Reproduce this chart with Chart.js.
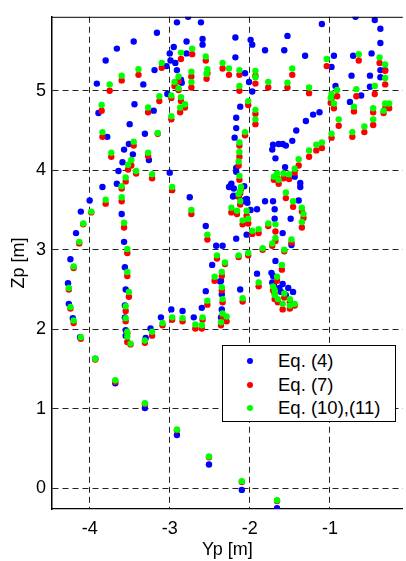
<!DOCTYPE html>
<html>
<head>
<meta charset="utf-8">
<script src="https://cdn.jsdelivr.net/npm/chart.js@4/dist/chart.umd.min.js"></script>
<style>
  html, body { margin: 0; padding: 0; background: #fff; overflow: hidden; }
  #wrap { position: relative; width: 406px; height: 561px; }
  #legend {
    position: absolute; left: 222px; top: 345px; width: 172px; height: 75px;
    border: 1px solid #000; background: #fff; color: #000;
    font: 18.5px "Liberation Sans", Arial, sans-serif;
  }
  .row { position: absolute; left: 0; height: 22px; line-height: 22px; width: 100%; }
  .dot { position: absolute; left: 24px; top: 8px; width: 6px; height: 6px; border-radius: 50%; }
  .lbl { position: absolute; left: 55px; white-space: nowrap; }
</style>
</head>
<body>
<div id="wrap">
  <canvas id="plot" width="406" height="561"></canvas>
  <div id="legend"></div>
</div>
<script>
// series names + colours
const seriesNames = ["Eq. (4)", "Eq. (7)", "Eq. (10),(11)"];
const seriesColors = ["#0000ff", "#ff0000", "#00ff00"];

// axis ticks
const xTicks = [-4, -3, -2, -1];
const yTicks = [0, 1, 2, 3, 4, 5];

// Eq. (4) points (blue)
const eq4X = [
  -2.77, -2.91, -2.61, -3.16, -2.59, -2.59, -2.79, -3.45, -3.66, -2.95,
  -3.00, -2.79, -2.99, -2.93, -3.80, -3.04, -3.19, -2.91, -2.86, -2.85,
  -3.91, -3.33, -3.03, -3.44, -3.89, -3.20, -3.50, -3.31, -3.78, -3.51,
  -3.57, -3.46, -3.26, -3.59, -3.64, -3.00, -3.66, -3.84, -2.75, -4.00,
  -3.60, -4.11, -4.17, -2.55, -3.57, -4.24, -3.56, -4.27, -4.26, -4.21,
  -4.12, -3.55, -3.56, -3.56, -3.55, -3.55, -3.30, -3.24, -3.11, -2.98,
  -2.84, -2.70, -2.60, -2.55, -2.47, -2.36, -2.35, -2.35, -2.36, -2.42,
  -2.34, -2.26, -2.23, -2.20, -2.20, -2.14, -2.04, -2.06, -2.03, -1.99,
  -1.91, -1.81, -1.71, -1.69, -1.69, -1.49, -1.39, -1.37, -1.37, -1.44,
  -1.56, -1.68, -1.72, -1.71, -1.64, -1.59, -1.55, -1.47, -2.19, -2.17,
  -2.17, -2.24, -2.07, -2.21, -2.06, -2.17, -2.04, -1.59, -1.48, -2.12,
  -1.91, -1.68, -1.73, -1.71, -1.72, -1.70, -1.59, -1.63, -1.52, -1.46,
  -1.61, -1.55, -2.37, -3.93, -3.68, -3.31, -2.91, -2.51, -2.10, -1.66,
  -0.68, -0.44, -0.37, -1.10, -2.18, -1.99, -1.97, -1.53, -0.37, -1.81,
  -1.57, -1.31, -2.18, -0.95, -0.71, -0.48, -0.98, -0.31, -0.37, -2.06,
  -0.73, -0.50, -0.37, -2.01, -0.93, -0.50, -1.97, -0.61, -0.75, -2.12,
  -1.13, -1.21, -1.30, -2.17, -2.17, -1.42
];
const eq4Y = [
  5.93, 5.86, 5.86, 5.73, 5.65, 5.58, 5.62, 5.62, 5.53, 5.55,
  5.47, 5.47, 5.38, 5.35, 5.38, 5.31, 5.26, 5.26, 5.14, 5.10,
  5.09, 5.08, 4.96, 4.83, 4.72, 4.75, 4.58, 4.46, 4.42, 4.33,
  4.26, 4.20, 4.13, 4.10, 3.99, 3.97, 3.83, 3.79, 3.66, 3.62,
  3.45, 3.48, 3.21, 3.30, 3.10, 2.88, 2.78, 2.58, 2.32, 2.14,
  1.90, 2.50, 2.30, 2.15, 1.99, 1.92, 1.89, 2.01, 2.15, 2.25,
  2.23, 2.15, 2.27, 2.48, 2.81, 2.61, 2.44, 2.25, 2.15, 3.05,
  3.05, 3.79, 3.83, 3.77, 3.68, 3.67, 3.64, 3.61, 3.59, 3.50,
  3.51, 3.61, 3.61, 3.51, 3.39, 3.39, 3.62, 3.84, 3.79, 3.92,
  4.04, 4.15, 4.26, 4.32, 4.33, 4.33, 4.31, 4.37, 4.41, 4.03,
  3.98, 3.81, 3.80, 3.67, 3.63, 3.14, 3.19, 3.21, 3.06, 2.50,
  2.70, 2.86, 2.71, 2.67, 2.59, 2.56, 2.57, 2.52, 2.52, 2.47,
  2.47, 2.43, 2.60, 1.63, 1.32, 1.01, 0.67, 0.30, -0.02, -0.25,
  5.93, 5.89, 5.78, 5.84, 5.67, 5.64, 5.58, 5.69, 5.60, 5.51,
  5.51, 5.44, 5.42, 5.44, 5.44, 5.47, 5.30, 5.26, 5.26, 5.22,
  5.19, 5.19, 5.17, 5.11, 5.06, 5.05, 4.99, 4.94, 4.86, 4.80,
  4.73, 4.70, 4.62, 4.66, 4.53, 4.50
];

// Eq. (7) (red) and Eq. (10),(11) (green) share the same Yp positions
const trajX = [
  -1.66, -2.10, -2.51, -2.91, -3.31, -3.68, -3.93, -4.11, -4.20, -4.24,
  -4.26, -4.20, -4.13, -4.08, -3.98, -3.80, -3.73, -3.84, -3.85, -3.75,
  -3.60, -3.39, -3.10, -2.86, -2.72, -2.55, -2.34, -2.26, -2.13, -1.93,
  -1.93, -1.77, -1.53, -1.47, -1.26, -1.04, -0.64, -0.38, -0.31, -0.31,
  -0.44, -0.67, -0.91, -0.98, -0.99, -0.95, -0.70, -0.46, -0.31, -0.26,
  -0.33, -0.46, -0.89, -0.57, -0.72, -0.98, -1.10, -1.17, -1.26, -1.39,
  -1.44, -1.51, -1.58, -1.66, -1.70, -1.64, -1.55, -1.46, -1.35, -1.33,
  -1.35, -1.48, -1.57, -1.72, -1.68, -1.68, -1.77, -1.84, -1.89, -1.97,
  -2.02, -2.09, -2.04, -2.16, -2.23, -2.12, -2.14, -2.12, -2.11, -2.13,
  -2.14, -2.13, -2.13, -2.06, -1.93, -1.93, -2.02, -2.13, -2.02, -2.14,
  -1.60, -1.66, -1.89, -1.71, -1.69, -1.57, -1.69, -1.65, -1.59, -1.50,
  -1.44, -1.50, -2.09, -2.29, -2.36, -2.34, -2.34, -2.35, -2.35, -2.44,
  -2.53, -2.59, -2.60, -2.68, -2.84, -2.97, -3.09, -3.22, -3.31, -3.49,
  -3.53, -3.53, -3.55, -3.55, -3.51, -3.53, -3.53, -3.57, -3.60, -3.60,
  -3.55, -3.42, -3.52, -3.48, -3.45, -3.27, -3.22, -2.97, -2.73, -2.53,
  -2.41, -2.31, -3.27, -3.13, -2.98, -2.87, -2.81, -2.86, -2.98, -2.89,
  -2.94, -3.15, -2.89, -2.73, -2.73, -2.53, -2.54
];
const eq7Y = [
  -0.16, 0.08, 0.39, 0.73, 1.06, 1.34, 1.62, 1.88, 2.08, 2.26,
  2.50, 2.77, 3.08, 3.32, 3.47, 3.58, 4.17, 4.42, 4.75, 5.00,
  5.13, 5.20, 5.29, 5.40, 5.46, 5.38, 5.28, 5.20, 5.20, 5.19,
  5.09, 5.04, 5.04, 5.20, 4.97, 5.31, 5.38, 5.35, 5.25, 5.08,
  4.96, 4.93, 4.93, 4.90, 4.85, 4.78, 4.74, 4.73, 4.78, 4.78,
  4.72, 4.57, 4.56, 4.48, 4.42, 4.41, 4.28, 4.25, 4.17, 4.06,
  3.97, 3.89, 3.90, 3.90, 3.88, 3.83, 3.65, 3.54, 3.48, 3.40,
  3.28, 3.09, 2.98, 3.05, 3.11, 3.23, 3.30, 3.00, 3.21, 3.20,
  3.33, 3.32, 3.43, 3.45, 3.47, 3.57, 3.67, 3.71, 3.76, 3.88,
  4.06, 4.17, 4.31, 4.44, 4.58, 4.71, 4.82, 5.00, 2.93, 2.91,
  2.75, 2.61, 2.54, 2.49, 2.45, 2.40, 2.38, 2.34, 2.25, 2.34,
  2.30, 2.26, 2.35, 2.10, 2.05, 2.16, 2.34, 2.49, 2.67, 2.61,
  2.31, 2.12, 2.01, 2.01, 2.10, 2.12, 2.05, 1.92, 1.83, 1.81,
  1.84, 1.95, 2.10, 2.23, 2.41, 2.67, 2.96, 3.28, 3.61, 3.77,
  3.86, 3.96, 4.01, 4.06, 4.31, 4.18, 3.90, 3.75, 3.45, 3.13,
  2.89, 2.82, 4.73, 4.87, 4.64, 4.73, 4.79, 4.87, 4.91, 5.01,
  5.06, 4.46, 5.12, 5.18, 5.04, 5.22, 5.15
];
const eq10Y = [
  -0.15, 0.09, 0.40, 0.74, 1.07, 1.36, 1.63, 1.90, 2.11, 2.28,
  2.52, 2.79, 3.10, 3.33, 3.48, 3.63, 4.22, 4.48, 4.82, 5.08,
  5.19, 5.27, 5.35, 5.48, 5.53, 5.43, 5.35, 5.28, 5.26, 5.25,
  5.17, 5.11, 5.10, 5.28, 5.04, 5.40, 5.46, 5.42, 5.33, 5.16,
  5.06, 5.02, 5.01, 4.96, 4.91, 4.84, 4.80, 4.78, 4.84, 4.84,
  4.75, 4.64, 4.64, 4.55, 4.48, 4.46, 4.35, 4.32, 4.25, 4.14,
  4.02, 3.95, 3.96, 3.96, 3.92, 3.88, 3.72, 3.61, 3.53, 3.45,
  3.35, 3.13, 3.00, 3.08, 3.15, 3.32, 3.33, 3.02, 3.26, 3.24,
  3.39, 3.37, 3.49, 3.49, 3.53, 3.61, 3.70, 3.74, 3.79, 3.93,
  4.11, 4.23, 4.35, 4.48, 4.64, 4.76, 4.87, 5.06, 2.96, 2.93,
  2.81, 2.66, 2.59, 2.54, 2.49, 2.45, 2.43, 2.38, 2.32, 2.38,
  2.32, 2.30, 2.39, 2.16, 2.09, 2.20, 2.38, 2.53, 2.72, 2.66,
  2.36, 2.15, 2.05, 2.06, 2.14, 2.15, 2.08, 1.97, 1.86, 1.82,
  1.91, 1.97, 2.14, 2.29, 2.47, 2.72, 3.01, 3.34, 3.66, 3.80,
  3.91, 3.99, 4.07, 4.13, 4.36, 4.22, 3.95, 3.79, 3.50, 3.19,
  2.93, 2.84, 4.79, 4.93, 4.68, 4.79, 4.83, 4.92, 4.94, 5.03,
  5.11, 4.47, 5.18, 5.24, 5.11, 5.27, 5.21
];

const FONT = '"Liberation Sans", Arial, sans-serif';

function toPoints(xs, ys) {
  return xs.map((x, i) => ({ x: x, y: ys[i] }));
}

// top edge of the box (matlab style frame)
const frameTop = {
  id: "frameTop",
  afterDraw(chart) {
    const { ctx, chartArea } = chart;
    ctx.save();
    ctx.strokeStyle = "#000";
    ctx.lineWidth = 1;
    ctx.beginPath();
    ctx.moveTo(chartArea.left, chartArea.top + 0.5);
    ctx.lineTo(chartArea.right, chartArea.top + 0.5);
    ctx.stroke();
    ctx.restore();
  }
};

const allY = [eq4Y, eq7Y, eq10Y];
const allX = [eq4X, trajX, trajX];

const datasets = seriesNames.map((name, i) => ({
  label: name,
  data: toPoints(allX[i], allY[i]),
  backgroundColor: seriesColors[i],
  borderWidth: 0,
  pointRadius: 3.2,
  pointHoverRadius: 3.2,
  order: 3 - i   // green on top, blue at the bottom
}));

new Chart(document.getElementById("plot").getContext("2d"), {
  type: "scatter",
  data: { datasets: datasets },
  options: {
    responsive: false,
    animation: false,
    layout: { padding: { top: 7, right: 0, left: 0, bottom: 0 } },
    plugins: { legend: { display: false }, tooltip: { enabled: false } },
    scales: {
      x: {
        type: "linear",
        min: -4.47,
        max: -0.09,
        afterBuildTicks: s => { s.ticks = xTicks.map(v => ({ value: v })); },
        afterFit: s => { s.height = 52; },
        grid: { color: "#222", lineWidth: 1, drawTicks: false },
        border: { display: true, color: "#000", width: 1.3, dash: [6, 4] },
        ticks: { color: "#000", font: { family: FONT, size: 18 }, padding: 9, callback: v => String(v) },
        title: { display: true, text: "Yp [m]", color: "#000", font: { family: FONT, size: 18 }, padding: { top: 0, bottom: 0 } }
      },
      y: {
        type: "linear",
        min: -0.26,
        max: 5.93,
        afterBuildTicks: s => { s.ticks = yTicks.map(v => ({ value: v })); },
        afterFit: s => { s.width = 52; },
        grid: { color: "#222", lineWidth: 1, drawTicks: false },
        border: { display: true, color: "#000", width: 1.5, dash: [6, 4] },
        ticks: { color: "#000", font: { family: FONT, size: 18 }, padding: 6, callback: v => String(v) },
        title: { display: true, text: "Zp [m]", color: "#000", font: { family: FONT, size: 18 }, padding: { top: 8, bottom: 0 } }
      }
    }
  },
  plugins: [frameTop]
});

// legend box
const legend = document.getElementById("legend");
const rowTops = [4, 27.5, 51];
seriesNames.forEach((name, i) => {
  const row = document.createElement("div");
  row.className = "row";
  row.style.top = rowTops[i] + "px";
  row.innerHTML = '<span class="dot" style="background:' + seriesColors[i] + '"></span><span class="lbl"></span>';
  row.querySelector(".lbl").textContent = name;
  legend.appendChild(row);
});
</script>
</body>
</html>
